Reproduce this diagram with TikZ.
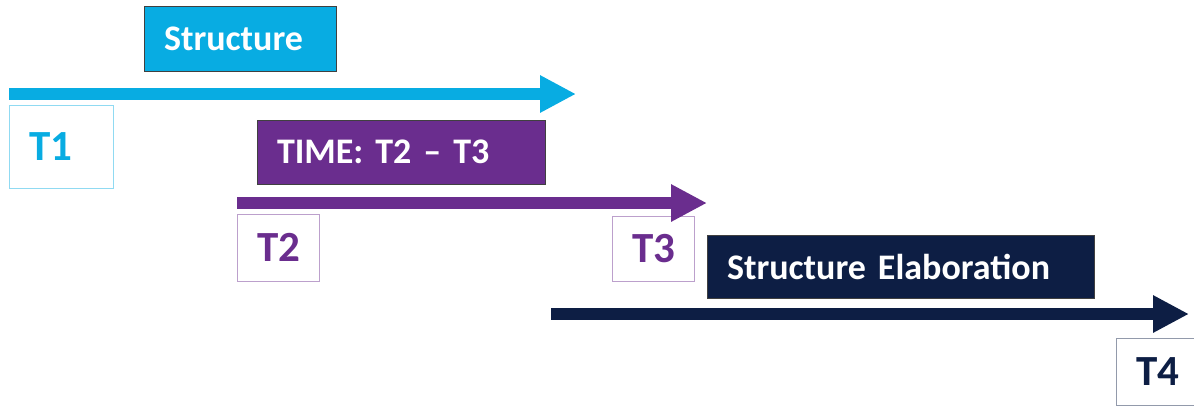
\documentclass[tikz,border=0pt]{standalone}
\usepackage{fontspec}
\setmainfont{Carlito}
\usepackage{xcolor}
\usepackage{tikz}
\usetikzlibrary{arrows.meta}

\definecolor{strcyan}{RGB}{8,172,226}
\definecolor{timepurple}{RGB}{106,45,142}
\definecolor{elabnavy}{RGB}{13,30,68}

\begin{document}
\begin{tikzpicture}[x=1pt,y=-1pt,
    phase/.style={draw=black!75,line width=1pt,text=white,inner xsep=20pt,inner ysep=0pt,align=left,
        font=\fontsize{36}{40}\selectfont\bfseries},
    tbox/.style={draw=#1!45,line width=0.8pt,text=#1,inner xsep=20pt,inner ysep=0pt,align=left,
        font=\fontsize{43}{47}\selectfont\bfseries},
    timeline/.style={line width=12pt,-{Triangle[length=36pt,width=35pt]}}]
    \useasboundingbox (0,0) rectangle (1194,405);

    % Phases
    \node[phase,fill=strcyan,text width=152pt,minimum height=65pt] (struct) at (240,38.5) {\raisebox{-3pt}{Structure}};
    \node[phase,fill=timepurple,text width=248pt,minimum height=64pt] (time) at (401,152) {\raisebox{-3pt}{TIME: T2 – T3}};
    \node[phase,fill=elabnavy,text width=347pt,minimum height=63pt] (elab) at (900.5,266.5) {\raisebox{-3pt}{Structure Elaboration}};

    % Time points
    \node[tbox=strcyan,text width=64pt,minimum height=83pt] (t1) at (61.5,146.5) {T1};
    \node[tbox=timepurple,text width=42pt,minimum height=67pt] (t2) at (278,247.5) {T2};
    \node[tbox=timepurple,text width=42pt,minimum height=65pt] (t3) at (653,248.5) {T3};
    \node[tbox=elabnavy,text width=42pt,minimum height=67pt] (t4) at (1157,371.5) {T4};

    % Timelines
    \coordinate (s1) at (9,94);
    \coordinate (e1) at (576,94);
    \coordinate (s2) at (237,203);
    \coordinate (e2) at (707,203);
    \coordinate (s3) at (551,314);
    \coordinate (e3) at (1189,314);
    \draw[timeline,strcyan] (s1) -- (e1);
    \draw[timeline,timepurple] (s2) -- (e2);
    \draw[timeline,elabnavy] (s3) -- (e3);
\end{tikzpicture}
\end{document}
